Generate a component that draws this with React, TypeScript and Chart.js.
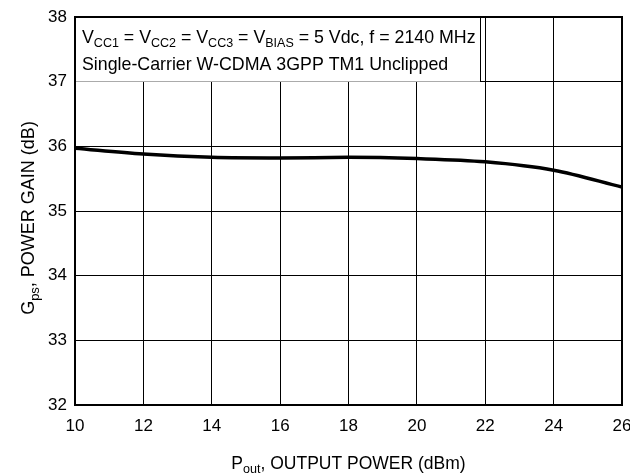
import React, { useEffect, useRef } from "react";
import { Chart, registerables } from "chart.js";

Chart.register(...registerables);

const pout: number[] = [10, 12, 14, 16, 18, 20, 22, 24, 26];
const gain: number[] = [35.97, 35.88, 35.83, 35.82, 35.83, 35.81, 35.76, 35.63, 35.37];
const xTicks: number[] = [10, 12, 14, 16, 18, 20, 22, 24, 26];
const yTicks: number[] = [32, 33, 34, 35, 36, 37, 38];

const FONT = "'Liberation Sans', Arial, sans-serif";

type Seg = { t: string; sub?: boolean };

function drawSegs(ctx: CanvasRenderingContext2D, segs: Seg[], x: number, y: number, size: number, align: "left" | "center", subRatio = 0.72) {
  const mainF = `${size}px ${FONT}`;
  const subF = `${(size * subRatio).toFixed(1)}px ${FONT}`;
  let total = 0;
  for (const s of segs) {
    ctx.font = s.sub ? subF : mainF;
    total += ctx.measureText(s.t).width;
  }
  let cx = align === "center" ? x - total / 2 : x;
  ctx.textBaseline = "alphabetic";
  ctx.textAlign = "left";
  for (const s of segs) {
    ctx.font = s.sub ? subF : mainF;
    ctx.fillText(s.t, cx, s.sub ? y + size * 0.25 : y);
    cx += ctx.measureText(s.t).width;
  }
}

const overlay = {
  id: "overlay",
  afterDraw(chart: any) {
    const ctx: CanvasRenderingContext2D = chart.ctx;
    const xs = chart.scales.x;
    const ys = chart.scales.y;
    ctx.save();
    const bx0 = chart.chartArea.left;
    const by0 = chart.chartArea.top;
    const bx1 = 480;
    const by1 = ys.getPixelForValue(37);
    ctx.fillStyle = "#fff";
    ctx.fillRect(bx0, by0, bx1 - bx0, by1 - by0);
    ctx.strokeStyle = "#000";
    ctx.lineWidth = 1;
    ctx.beginPath();
    ctx.moveTo(bx1 + 0.5, by0);
    ctx.lineTo(bx1 + 0.5, by1);
    ctx.stroke();
    ctx.fillStyle = "#000";
    drawSegs(ctx, [
      { t: "V" }, { t: "CC1", sub: true }, { t: " = V" }, { t: "CC2", sub: true },
      { t: " = V" }, { t: "CC3", sub: true }, { t: " = V" }, { t: "BIAS", sub: true },
      { t: " = 5 Vdc, f = 2140 MHz" },
    ], bx0 + 7, by0 + 26, 17.8, "left", 0.7);
    drawSegs(ctx, [{ t: "Single-Carrier W-CDMA 3GPP TM1 Unclipped" }], bx0 + 7, by0 + 53, 17.8, "left");
    drawSegs(ctx, [{ t: "P" }, { t: "out", sub: true }, { t: ", OUTPUT POWER (dBm)" }],
      (xs.left + xs.right) / 2, 469, 17.5, "center");
    ctx.save();
    ctx.translate(34, (ys.top + ys.bottom) / 2 + 7);
    ctx.rotate(-Math.PI / 2);
    drawSegs(ctx, [{ t: "G" }, { t: "ps", sub: true }, { t: ", POWER GAIN (dB)" }], 0, 0, 18, "center");
    ctx.restore();
    ctx.strokeStyle = "#000";
    ctx.lineWidth = 2;
    const ca = chart.chartArea;
    ctx.strokeRect(ca.left, ca.top, ca.right - ca.left, ca.bottom - ca.top);
    ctx.restore();
  },
};

export default function App() {
  const ref = useRef<HTMLCanvasElement>(null);
  useEffect(() => {
    if (!ref.current) return;
    const chart = new Chart(ref.current, {
      type: "line",
      data: {
        datasets: [{
          data: pout.map((x, i) => ({ x, y: gain[i] })),
          borderColor: "#000",
          borderWidth: 3.5,
          pointRadius: 0,
          cubicInterpolationMode: "monotone",
          fill: false,
        }],
      },
      options: {
        animation: false,
        responsive: false,
        maintainAspectRatio: false,
        layout: { padding: { top: 17, right: 8, left: 0, bottom: 0 } },
        plugins: { legend: { display: false }, tooltip: { enabled: false }, title: { display: false } },
        scales: {
          x: {
            type: "linear",
            min: 10, max: 26,
            afterBuildTicks: (s: any) => { s.ticks = xTicks.map((v) => ({ value: v })); },
            afterFit: (s: any) => { s.height = 68; s.paddingLeft = 0; s.paddingRight = 0; },
            ticks: { color: "#000", font: { family: FONT, size: 17 }, padding: 11 },
            grid: { color: "#000", lineWidth: 1, drawTicks: false },
            border: { color: "#000", width: 2 },
          },
          y: {
            type: "linear",
            min: 32, max: 38,
            afterBuildTicks: (s: any) => { s.ticks = yTicks.map((v) => ({ value: v })); },
            afterFit: (s: any) => { s.width = 75; s.paddingTop = 0; s.paddingBottom = 0; },
            ticks: { color: "#000", font: { family: FONT, size: 17 }, padding: 8 },
            grid: { color: "#000", lineWidth: 1, drawTicks: false },
            border: { color: "#000", width: 2 },
          },
        },
      },
      plugins: [overlay],
    } as any);
    return () => chart.destroy();
  }, []);
  return (
    <div style={{ position: "fixed", left: 0, top: 0, width: 630, height: 473, background: "#fff" }}>
      <canvas ref={ref} width={630} height={473} style={{ width: 630, height: 473 }} />
    </div>
  );
}
